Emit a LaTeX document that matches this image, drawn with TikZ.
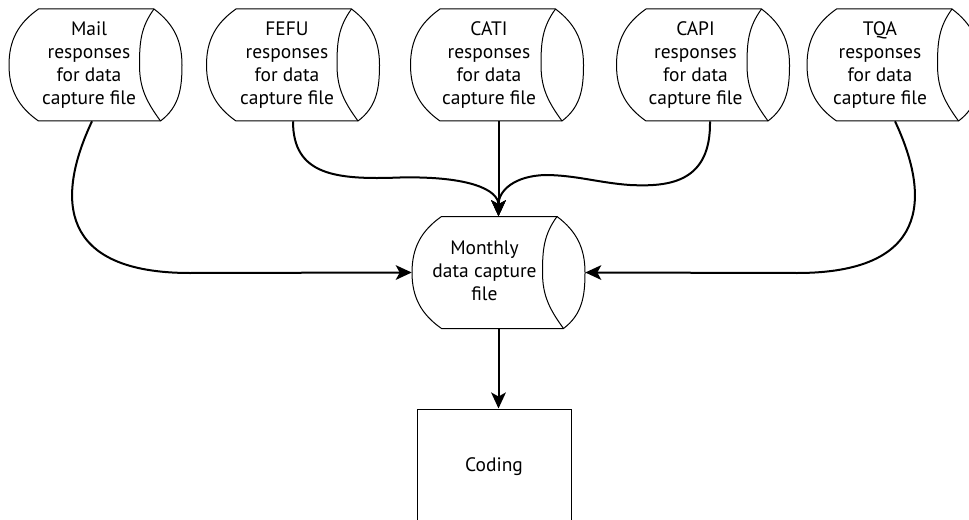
\documentclass[tikz,border=0pt]{standalone}
\usepackage{fontspec}
\setmainfont{PT Sans}
\usetikzlibrary{arrows.meta,calc}

% Outline of a "stored data" drum: curved left side, curved right side
% with an inner arc. Argument: name of the (invisible) node that sizes it.
\newcommand\drumoutline[1]{%
  \draw[outline] ($(#1.center)+(-57,-56)$) -- ($(#1.center)+(58.5,-56)$)
     to[out=-37,in=90] ($(#1.center)+(86.5,0)$)
     to[out=-90,in=37] ($(#1.center)+(65,56)$)
     -- ($(#1.center)+(-57,56)$)
     to[out=145,in=-90] ($(#1.center)+(-86.5,0)$)
     to[out=90,in=215] ($(#1.center)+(-57,-56)$) -- cycle;
  \draw[outline] ($(#1.center)+(58.5,-56)$)
     to[out=234,in=90] ($(#1.center)+(44,0)$)
     to[out=-90,in=126] ($(#1.center)+(65,56)$);}

\begin{document}
\begin{tikzpicture}[x=0.75pt,y=-0.75pt,
  outline/.style={draw=black, line width=0.75pt},
  flow/.style={draw=black, line width=1.5pt,
    -{Stealth[length=12pt,width=11pt,inset=3pt]}},
  txt/.style={align=center, inner sep=0pt,
    font=\fontsize{14.6pt}{17.25pt}\selectfont},
  drumbox/.style={minimum width=129.75pt, minimum height=84pt, inner sep=0pt},
  procbox/.style={draw=black, line width=0.75pt, minimum width=115.5pt,
    minimum height=86.25pt, inner sep=0pt,
    font=\fontsize{14.6pt}{17.25pt}\selectfont}]

\fill[white] (0,0) rectangle (969,520);
\clip (0,0) rectangle (969,520);

% source files
\node[drumbox] (mail) at (95.5,65) {};
\node[drumbox] (fefu) at (293,65) {};
\node[drumbox] (cati) at (497,65) {};
\node[drumbox] (capi) at (703,65) {};
\node[drumbox] (tqa)  at (893.5,65) {};
\node[drumbox] (monthly) at (498.5,272.5) {};
\foreach \n in {mail,fefu,cati,capi,tqa,monthly} {\drumoutline{\n}}

\node[txt] (mailt) at (89,65)   {Mail\\responses\\for data\\capture file};
\node[txt] (fefut) at (287,65)  {FEFU\\responses\\for data\\capture file};
\node[txt] (catit) at (489,65)  {CATI\\responses\\for data\\capture file};
\node[txt] (capit) at (695.5,65){CAPI\\responses\\for data\\capture file};
\node[txt] (tqat)  at (880,65)  {TQA\\responses\\for data\\capture file};
\node[txt] (montht) at (484.5,271) {Monthly\\data capture\\file};

\node[procbox] (coding) at (494,466.5) {Coding};

% connectors
\draw[flow] ($(mail.south)+(-3.5,0)$) .. controls (55,200) and (60,273)
   .. (190,273) -- (monthly.west);
\draw[flow] ($(tqa.south)+(1.5,0)$) .. controls (932,200) and (927,273)
   .. (797,273) -- (monthly.east);
\draw[flow] (fefu.south) .. controls (293,175) and (335,180) .. (400,177.5)
   .. controls (470,176) and (498.5,190) .. (monthly.north);
\draw[flow] ($(capi.south)+(7,0)$) .. controls (711,182) and (670,187) .. (630,185)
   .. controls (600,183) and (575,175) .. (545,175)
   .. controls (515,176) and (498.5,190) .. (monthly.north);
\draw[flow] (cati.south -| monthly.north) -- (monthly.north);
\draw[flow] (monthly.south) -- (monthly.south |- coding.north);
\end{tikzpicture}
\end{document}
